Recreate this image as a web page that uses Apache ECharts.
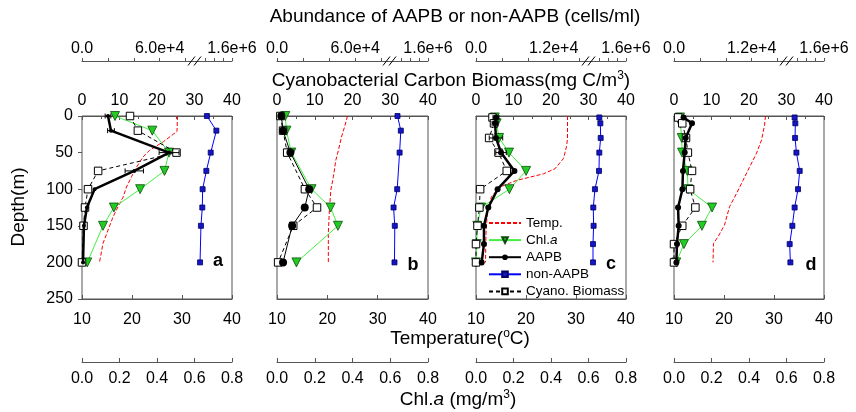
<!DOCTYPE html>
<html><head><meta charset="utf-8">
<script src="https://cdn.jsdelivr.net/npm/echarts@6/dist/echarts.min.js"></script>
<style>html,body{margin:0;padding:0;background:#fff}#c{width:856px;height:412px}</style>
</head><body><div id="c"></div>
<script>
// ---------------- data ----------------
const depthA = [0, 20, 50, 75, 100, 125, 150, 200];
const depthB = [0, 20, 50, 100, 125, 150, 200];
const depthC = [2, 10, 30, 50, 75, 100, 125, 150, 175, 200];
const depthD = [2, 10, 30, 50, 75, 100, 125, 150, 175, 200];

const tempDepthA = [0, 21, 35, 47, 56, 70, 83, 97, 111, 124, 138, 156, 174, 200];
const tempA = [29.1, 29.0, 26.3, 23.5, 22.2, 20.9, 19.9, 18.9, 18.2, 17.2, 16.2, 15.2, 14.2, 13.5];
const tempDepthB = [0, 13, 29, 47, 60, 83, 101, 129, 160, 200];
const tempB = [24.0, 23.5, 22.8, 22.2, 21.7, 21.2, 20.7, 20.4, 20.2, 20.2];
const tempDepthC = [0, 31, 42, 58, 72, 79, 88, 97, 110, 129, 160, 200];
const tempC = [28.3, 28.3, 28.1, 27.5, 25.8, 23.5, 18.1, 14.8, 13.1, 12.3, 12.0, 11.9];
const tempDepthD = [0, 13, 33, 51, 70, 88, 106, 124, 149, 165, 174, 200];
const tempD = [28.3, 28.1, 27.5, 26.5, 25.1, 23.8, 22.5, 21.1, 20.1, 18.8, 17.9, 17.8];

const chlA = [0.176, 0.375, 0.464, 0.44, 0.31, 0.17, 0.112, 0.028];
const chlB = [0.044, 0.05, 0.076, 0.183, 0.284, 0.323, 0.103];
const chlC = [0.10, 0.11, 0.123, 0.176, 0.267, 0.178, 0.027, 0.007, 0.004, 0.0];
const chlD = [0.032, 0.034, 0.041, 0.043, 0.071, 0.075, 0.203, 0.149, 0.053, 0.012];

const aapbA = [20100, 22400, 67300, 40400, 9700, 3800, 1500, 800];
const aapbErrA = [2200, 2600, 7700, 7100, 0, 0, 0, 0];
const aapbB = [3360, 4640, 10300, 24700, 21300, 11600, 4640];
const aapbErrB = [0, 0, 0, 0, 0, 0, 0];
const aapbC = [3090, 2950, 3090, 3870, 5940, 3340, 1900, 1230, 1230, 880];
const aapbErrC = [460, 460, 1040, 810, 0, 0, 0, 0, 0, 0];
const aapbD = [1480, 2780, 1810, 1650, 1390, 1300, 630, 720, 460, 370];
const aapbErrD = [0, 0, 0, 0, 0, 0, 0, 0, 0, 0];

const nonAapbA = [1.043e6, 1.253e6, 1.127e6, 1.030e6, 0.947e6, 0.940e6, 0.910e6, 0.890e6];
const nonAapbB = [0.927e6, 1.000e6, 0.973e6, 0.920e6, 0.840e6, 0.867e6, 0.860e6];
const nonAapbC = [1.007e6, 1.030e6, 1.037e6, 1.007e6, 1.000e6, 0.910e6, 0.873e6, 0.880e6, 0.867e6, 0.867e6];
const nonAapbD = [0.947e6, 0.963e6, 0.957e6, 0.987e6, 1.060e6, 1.023e6, 0.947e6, 0.897e6, 0.837e6, 0.853e6];

const cyanoA = [12.8, 14.9, 25.2, 4.3, 1.6, 0.8, 0.4, 0.0];
const cyanoB = [0.9, 1.6, 2.7, 7.4, 10.6, 4.3, 0.3];
const cyanoC = [4.4, 4.8, 3.5, 6.0, 8.2, 1.1, 0.9, 0.4, 0.0, 0.0];
const cyanoD = [1.1, 2.2, 3.2, 3.7, 4.8, 4.3, 5.7, 2.2, 0.0, 0.0];

// ---------------- ticks / labels ----------------
const depthTicks = [0, 50, 100, 150, 200, 250];
const biomassTicks = [0, 10, 20, 30, 40];
const tempTicks = [10, 20, 30, 40];
const chlTicks = [0, 0.2, 0.4, 0.6, 0.8];
const abundLowTicksAB = [0, 2e4, 4e4, 6e4, 8e4];
const abundLowTicksCD = [0, 4e3, 8e3, 1.2e4, 1.6e4];
const abundHighTicks = [1.0e6, 1.2e6, 1.4e6, 1.6e6];
const abundLabelAB = [0, 6e4];
const abundLabelCD = [0, 1.2e4];
const panelLetters = ['a', 'b', 'c', 'd'];
const legendNames = ['Temp.', 'Chl.a', 'AAPB', 'non-AAPB', 'Cyano. Biomass'];

// ---------------- layout / style ----------------
const F = "'Liberation Sans', Arial, sans-serif";
const AX = '#555';
const gridLefts = [82, 277, 476, 674];
const gridWidths = [150, 151, 150, 150];
const gridTop = 116, gridHeight = 183;
const LOW_END_FRAC = 0.69;    // position of last tick before the axis break
const HIGH_START_FRAC = 0.82; // position of 1.0e6 after the break

const panels = [
  {depth: depthA, tD: tempDepthA, t: tempA, chl: chlA, aapb: aapbA, err: aapbErrA, non: nonAapbA, cyano: cyanoA, low: abundLowTicksAB, lab: abundLabelAB, aSize: 4, aWidth: 2.5},
  {depth: depthB, tD: tempDepthB, t: tempB, chl: chlB, aapb: aapbB, err: aapbErrB, non: nonAapbB, cyano: cyanoB, low: abundLowTicksAB, lab: abundLabelAB, aSize: 8, aWidth: 1},
  {depth: depthC, tD: tempDepthC, t: tempC, chl: chlC, aapb: aapbC, err: aapbErrC, non: nonAapbC, cyano: cyanoC, low: abundLowTicksCD, lab: abundLabelCD, aSize: 6, aWidth: 2.5},
  {depth: depthD, tD: tempDepthD, t: tempD, chl: chlD, aapb: aapbD, err: aapbErrD, non: nonAapbD, cyano: cyanoD, low: abundLowTicksCD, lab: abundLabelCD, aSize: 6, aWidth: 2.5}
];

const hiSpan = abundHighTicks[abundHighTicks.length - 1] - abundHighTicks[0];
const nonMax = abundHighTicks[abundHighTicks.length - 1];
const nonMin = abundHighTicks[0] - HIGH_START_FRAC * hiSpan / (1 - HIGH_START_FRAC);

const grids = [], xAxes = [], yAxes = [], series = [], graphics = [];
const tickStyle = {color: AX, width: 1};
const labelBase = {fontSize: 16, color: '#000', fontFamily: F};

panels.forEach((p, i) => {
  grids.push({left: gridLefts[i], top: gridTop, width: gridWidths[i], height: gridHeight,
    show: true, borderColor: AX, borderWidth: 1, backgroundColor: 'transparent', outerBoundsMode: 'none'});
  const aapbMax = p.low[p.low.length - 1] / LOW_END_FRAC;
  const hiToAxis = v => aapbMax * (HIGH_START_FRAC + (v - abundHighTicks[0]) / hiSpan * (1 - HIGH_START_FRAC));
  const tickVals = p.low.concat(abundHighTicks.map(hiToAxis));
  const labelVals = p.lab.concat([aapbMax]);
  // biomass (top)
  xAxes.push({gridIndex: i, type: 'value', position: 'top', min: biomassTicks[0], max: biomassTicks[biomassTicks.length - 1],
    interval: biomassTicks[1] - biomassTicks[0],
    axisLine: {show: true, lineStyle: tickStyle}, axisTick: {inside: true, length: 4, lineStyle: tickStyle},
    minorTick: {show: true, splitNumber: 2, length: 3, lineStyle: tickStyle},
    axisLabel: Object.assign({margin: 7}, labelBase), splitLine: {show: false}});
  // temperature (bottom)
  xAxes.push({gridIndex: i, type: 'value', position: 'bottom', min: tempTicks[0], max: tempTicks[tempTicks.length - 1],
    interval: tempTicks[1] - tempTicks[0],
    axisLine: {show: true, lineStyle: tickStyle}, axisTick: {inside: true, length: 4, lineStyle: tickStyle},
    axisLabel: Object.assign({margin: 13}, labelBase), splitLine: {show: false}});
  // chl.a (bottom, offset)
  xAxes.push({gridIndex: i, type: 'value', position: 'bottom', offset: 63, min: chlTicks[0], max: chlTicks[chlTicks.length - 1],
    interval: 0.2,
    axisLine: {show: true, lineStyle: tickStyle}, axisTick: {inside: true, length: 4, lineStyle: tickStyle},
    axisLabel: Object.assign({margin: 9, formatter: v => (+v).toFixed(1)}, labelBase), splitLine: {show: false}});
  // abundance AAPB (top, offset, broken)
  xAxes.push({gridIndex: i, type: 'value', position: 'top', offset: 55, min: 0, max: aapbMax,
    axisLine: {show: true, lineStyle: tickStyle},
    axisTick: {inside: false, length: 3, lineStyle: tickStyle, customValues: tickVals},
    axisLabel: Object.assign({margin: 4, customValues: labelVals, showMinLabel: true, showMaxLabel: true,
      formatter: v => Math.abs(v - aapbMax) < 1 ? (nonMax.toExponential(1)) : (v === 0 ? '0.0' : (+v).toExponential(1))}, labelBase),
    splitLine: {show: false}});
  // non-AAPB (hidden, shares the broken axis)
  xAxes.push({gridIndex: i, type: 'value', position: 'top', show: false, min: nonMin, max: nonMax, splitLine: {show: false}});
  yAxes.push({gridIndex: i, type: 'value', inverse: true, min: depthTicks[0], max: depthTicks[depthTicks.length - 1],
    interval: depthTicks[1] - depthTicks[0],
    axisLine: {show: false}, axisTick: {show: i === 0, inside: false, length: 4, lineStyle: tickStyle},
    axisLabel: Object.assign({show: i === 0, margin: 9}, labelBase), splitLine: {show: false}});

  const b = i * 5;
  series.push({name: 'Temp.', type: 'line', xAxisIndex: b + 1, yAxisIndex: i, z: 2,
    data: p.tD.map((d, k) => [p.t[k], d]), symbol: 'none',
    lineStyle: {color: '#ff0000', width: 1, type: [4, 2]}, itemStyle: {color: '#ff0000'}});
  series.push({name: 'Chl.a', type: 'line', xAxisIndex: b + 2, yAxisIndex: i, z: 3,
    data: p.depth.map((d, k) => [p.chl[k], d]), symbol: 'triangle', symbolRotate: 180, symbolSize: 9,
    itemStyle: {color: '#22cc22', borderColor: '#0a4a0a', borderWidth: 0.8}, lineStyle: {color: '#44ee44', width: 1}});
  series.push({name: 'Cyano. Biomass', type: 'line', xAxisIndex: b, yAxisIndex: i, z: 4,
    data: p.depth.map((d, k) => [p.cyano[k], d]), symbol: 'rect', symbolSize: 7.5,
    itemStyle: {color: '#ffffff', borderColor: '#000', borderWidth: 1}, lineStyle: {color: '#000', width: 1, type: [4, 3]}});
  const errData = [];
  p.depth.forEach((d, k) => { if (p.err[k] > 0) errData.push([p.aapb[k] - p.err[k], p.aapb[k] + p.err[k], d]); });
  if (errData.length) {
    series.push({type: 'custom', xAxisIndex: b + 3, yAxisIndex: i, z: 5, silent: true,
      encode: {x: [0, 1], y: 2}, data: errData,
      renderItem: (params, api) => {
        const y = api.value(2);
        const lo = api.coord([api.value(0), y]);
        const hi = api.coord([api.value(1), y]);
        const h = 2.5, st = {stroke: '#000', lineWidth: 1};
        return {type: 'group', children: [
          {type: 'line', shape: {x1: lo[0], y1: lo[1], x2: hi[0], y2: hi[1]}, style: st},
          {type: 'line', shape: {x1: lo[0], y1: lo[1] - h, x2: lo[0], y2: lo[1] + h}, style: st},
          {type: 'line', shape: {x1: hi[0], y1: hi[1] - h, x2: hi[0], y2: hi[1] + h}, style: st}
        ]};
      }});
  }
  series.push({name: 'AAPB', type: 'line', xAxisIndex: b + 3, yAxisIndex: i, z: 6,
    data: p.depth.map((d, k) => [p.aapb[k], d]), symbol: 'circle', symbolSize: p.aSize,
    itemStyle: {color: '#000'}, lineStyle: {color: '#000', width: p.aWidth}});
  series.push({name: 'non-AAPB', type: 'line', xAxisIndex: b + 4, yAxisIndex: i, z: 7,
    data: p.depth.map((d, k) => [p.non[k], d]), symbol: 'rect', symbolSize: 5,
    itemStyle: {color: '#1414c8', borderColor: '#000060', borderWidth: 0.8}, lineStyle: {color: '#0000ff', width: 1}});

  // axis break marks
  const L = gridLefts[i];
  [0, 6].forEach(dx => graphics.push({type: 'line', z: 10,
    shape: {x1: L + 106 + dx, y1: 65.5, x2: L + 113 + dx, y2: 56.5}, style: {stroke: '#000', lineWidth: 1}}));
});

const letterPos = [[218, 261], [413, 265], [611, 264], [811, 265]];
panelLetters.forEach((s, i) => graphics.push({type: 'text', x: letterPos[i][0], y: letterPos[i][1],
  style: {text: s, fontSize: 18, fontWeight: 'bold', fontFamily: F, fill: '#000',
    align: 'center', verticalAlign: 'middle', textAlign: 'center', textVerticalAlign: 'middle'}}));

function title(x, y, text, rot) {
  return {type: 'text', x: x, y: y, rotation: rot || 0,
    style: {text: text, fontSize: 19, fontFamily: F, fill: '#000',
      align: 'center', verticalAlign: 'middle', textAlign: 'center', textVerticalAlign: 'middle',
      rich: {
        n: {fontSize: 19, fontFamily: F, lineHeight: 22},
        i: {fontSize: 19, fontFamily: F, fontStyle: 'italic', lineHeight: 22},
        sup: {fontSize: 12, fontFamily: F, lineHeight: 12, verticalAlign: 'top'}
      }}};
}
graphics.push(title(455, 17, 'Abundance of AAPB or non-AAPB (cells/ml)'));
graphics.push(title(451, 81, '{n|Cyanobacterial Carbon Biomass(mg C/m}{sup|3}{n|)}'));
graphics.push(title(460, 339, '{n|Temperature(}{sup|o}{n|C)}'));
graphics.push(title(458, 400, '{n|Chl.}{i|a}{n| (mg/m}{sup|3}{n|)}'));
graphics.push(title(19, 207, 'Depth(m)', Math.PI / 2));

const legendData = legendNames.map(n => n === 'Temp.' ? {name: n, itemStyle: {opacity: 0}} : {name: n});

const chart = echarts.init(document.getElementById('c'), null, {renderer: 'canvas'});
chart.setOption({
  animation: false,
  backgroundColor: '#fff',
  textStyle: {fontFamily: F},
  grid: grids, xAxis: xAxes, yAxis: yAxes, series: series, graphic: graphics,
  legend: {data: legendData, orient: 'vertical', left: 488, top: 216, itemWidth: 32, itemHeight: 7, itemGap: 3.1,
    selectedMode: false, padding: 0,
    formatter: n => n === 'Chl.a' ? 'Chl.{i|a}' : n,
    textStyle: {fontSize: 13.5, color: '#000', fontFamily: F, rich: {i: {fontSize: 13.5, fontStyle: 'italic', fontFamily: F}}}}
});
</script></body></html>
